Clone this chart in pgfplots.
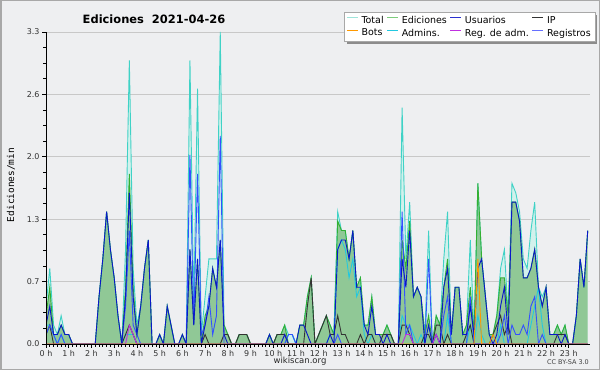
\documentclass[border=0pt]{standalone}
\usepackage{fontspec}
\setmainfont{DejaVu Sans}
\setmonofont{DejaVu Sans Mono}
\usepackage{pgfplots}
\usepackage{pgfplotstable}
\pgfplotsset{compat=1.18}
\pgfdeclarelayer{bgl}
\pgfdeclarelayer{shl}
\pgfsetlayers{bgl,shl,main}
\definecolor{bgc}{HTML}{EEEFF1}
\definecolor{bordc}{HTML}{A8A8A8}
\definecolor{gridc}{HTML}{C8C8C8}
\definecolor{totl}{HTML}{3FD2C6}
\definecolor{totf}{HTML}{D2F1EC}
\definecolor{totleg}{HTML}{9EE4DA}
\definecolor{edl}{HTML}{33B033}
\definecolor{edf}{HTML}{90C896}
\definecolor{edleg}{HTML}{7CCC7C}
\definecolor{usr}{HTML}{0A18C8}
\definecolor{usrleg}{HTML}{2A30D0}
\definecolor{ipc}{HTML}{333333}
\definecolor{regc}{HTML}{3350FF}
\definecolor{regleg}{HTML}{6670FF}
\definecolor{adm}{HTML}{22C8E0}
\definecolor{rad}{HTML}{C030E0}
\definecolor{bot}{HTML}{FF9900}
\pgfplotstableread{
i T E U P R A M B
0 0.4 0.3 0.2 0.1 0.1 0.2 0 0
1 0.8 0.6 0.4 0.2 0.2 0.2 0 0
2 0.2 0.1 0.1 0 0.1 0.1 0 0
3 0.1 0.1 0.1 0 0 0 0 0
4 0.3 0.2 0.2 0 0.1 0.1 0 0
5 0.1 0.1 0.1 0 0 0 0 0
6 0.1 0.1 0.1 0 0 0 0 0
7 0 0 0 0 0 0 0 0
8 0 0 0 0 0 0 0 0
9 0 0 0 0 0 0 0 0
10 0 0 0 0 0 0 0 0
11 0 0 0 0 0 0 0 0
12 0 0 0 0 0 0 0 0
13 0 0 0 0 0 0 0 0
14 0.5 0.5 0.5 0 0 0 0 0
15 0.9 0.9 0.9 0 0 0 0 0
16 1.4 1.4 1.4 0 0 0 0 0
17 1.0 1.0 1.0 0 0 0 0 0
18 0.7 0.7 0.7 0 0 0 0 0
19 0.3 0.3 0.3 0 0 0 0 0
20 0 0 0 0 0 0 0 0
21 1.0 0.6 0.5 0.1 0.4 0.1 0 0
22 3.0 1.8 1.6 0.2 1.2 0.1 0.2 0
23 0.8 0.6 0.5 0.1 0.2 0.1 0.1 0
24 0.2 0.1 0.1 0 0.1 0 0 0
25 0.4 0.4 0.4 0 0 0 0 0
26 0.8 0.8 0.8 0 0 0 0 0
27 1.1 1.1 1.1 0 0 0 0 0
28 0 0 0 0 0 0 0 0
29 0 0 0 0 0 0 0 0
30 0.1 0.1 0.1 0 0 0 0 0
31 0 0 0 0 0 0 0 0
32 0.4 0.4 0.4 0 0 0 0 0
33 0.2 0.2 0.2 0 0 0 0 0
34 0 0 0 0 0 0 0 0
35 0 0 0 0 0 0 0 0
36 0.1 0.1 0.1 0 0 0 0 0
37 0 0 0 0 0 0 0 0
38 3.0 1.0 1.0 0 2.0 0 0 0
39 0.4 0.2 0.2 0 0.2 0 0 0
40 2.7 0.9 0.9 0 1.8 0 0 0
41 0.1 0 0 0 0.1 0 0 0
42 0.5 0.3 0.2 0.1 0.2 0 0 0
43 0.9 0.4 0.4 0 0.5 0 0 0
44 0.9 0.8 0.8 0 0.1 0 0 0
45 0.9 0.6 0.6 0 0.3 0 0 0
46 3.3 1.1 1.1 0 2.2 0 0 0
47 0.2 0.2 0.1 0.1 0 0 0 0
48 0.1 0.1 0 0.1 0 0 0 0
49 0 0 0 0 0 0 0 0
50 0 0 0 0 0 0 0 0
51 0.1 0.1 0 0.1 0 0 0 0
52 0.1 0.1 0 0.1 0 0 0 0
53 0.1 0.1 0 0.1 0 0 0 0
54 0 0 0 0 0 0 0 0
55 0 0 0 0 0 0 0 0
56 0 0 0 0 0 0 0 0
57 0 0 0 0 0 0 0 0
58 0 0 0 0 0 0 0 0
59 0.1 0.1 0.1 0 0 0 0 0
60 0 0 0 0 0 0 0 0
61 0.1 0.1 0 0.1 0 0 0 0
62 0.1 0.1 0 0.1 0 0 0 0
63 0.2 0.2 0.1 0.1 0 0 0 0
64 0.1 0 0 0 0.1 0.1 0 0
65 0.1 0 0 0 0.1 0.1 0 0
66 0 0 0 0 0 0 0 0
67 0.2 0.2 0.2 0 0 0 0 0
68 0.2 0.2 0.2 0 0 0 0 0
69 0.5 0.5 0.1 0.4 0 0 0 0
70 0.7 0.7 0 0.7 0 0 0 0
71 0 0 0 0 0 0 0 0
72 0.1 0.1 0 0.1 0 0 0 0
73 0.2 0.2 0 0.2 0 0 0 0
74 0.3 0.3 0 0.3 0 0 0 0
75 0.2 0.2 0.1 0.1 0 0.1 0 0
76 0.1 0.1 0 0.1 0 0.1 0 0
77 1.4 1.3 1.0 0.3 0.1 1.0 0 0
78 1.2 1.2 1.1 0.1 0 1.1 0 0
79 1.2 1.2 1.1 0.1 0 1.0 0 0
80 0.9 0.9 0.9 0 0 0.7 0 0
81 1.2 1.2 1.2 0 0 0.9 0 0
82 0.6 0.6 0.6 0 0 0.5 0 0
83 0.7 0.7 0.6 0.1 0 0.6 0 0
84 0.2 0.2 0.2 0 0 0.1 0 0
85 0.2 0.2 0.1 0.1 0 0 0 0
86 0.5 0.5 0.4 0.1 0 0.1 0 0
87 0.1 0.1 0.1 0 0 0 0 0
88 0.1 0.1 0.1 0 0 0 0 0
89 0.1 0.1 0 0.1 0 0 0 0
90 0.2 0.2 0.1 0.1 0 0 0 0
91 0.1 0.1 0 0.1 0 0 0 0
92 0 0 0 0 0 0 0 0
93 0 0 0 0 0 0 0 0
94 2.5 1.1 0.9 0.2 1.4 0.3 0 0
95 0.9 0.8 0.6 0.2 0.1 0.2 0.1 0
96 1.5 1.3 1.2 0.1 0.2 0.2 0.1 0
97 0.5 0.5 0.5 0 0 0.1 0 0
98 0.6 0.6 0.6 0 0 0 0 0
99 0.5 0.5 0.5 0 0 0.1 0 0
100 0.1 0.1 0 0.1 0 0 0 0
101 1.2 0.3 0.2 0.1 0.9 0 0 0
102 0 0 0 0 0 0 0 0
103 0.3 0.3 0.1 0.2 0 0 0.1 0
104 0.2 0.2 0 0.2 0 0 0 0
105 0.9 0.6 0.6 0 0.3 0 0 0
106 1.4 0.9 0.8 0.1 0.5 0.3 0 0
107 0.1 0.1 0.1 0 0 0 0 0
108 0.6 0.6 0.6 0 0 0 0 0
109 0.6 0.6 0.6 0 0 0 0 0
110 0.1 0.1 0.1 0 0 0 0 0
111 0.2 0.2 0.1 0.1 0 0 0 0
112 1.1 0.6 0.4 0.2 0.5 0.2 0 0
113 0.1 0.1 0.1 0 0 0 0 0
114 1.7 1.7 0.8 0 0 0.3 0 0.9
115 0.9 0.9 0.9 0 0 0.1 0 0
116 0.5 0.5 0.5 0 0 0 0 0
117 0.1 0.1 0.1 0 0 0 0 0
118 0.1 0.1 0 0.1 0 0.1 0 0.1
119 0.3 0.3 0.1 0.2 0 0 0 0
120 0.8 0.7 0.4 0.3 0.1 0.2 0 0
121 1.0 0.7 0.6 0.1 0.3 0 0 0
122 0.3 0.3 0.1 0.2 0 0 0 0
123 1.7 1.5 1.5 0 0.2 0 0 0
124 1.6 1.5 1.5 0 0.1 0 0 0
125 1.4 1.3 1.3 0 0.1 0 0 0
126 0.9 0.7 0.7 0 0.2 0 0 0
127 0.8 0.7 0.7 0 0.1 0 0 0
128 1.2 0.8 0.8 0 0.4 0.2 0 0
129 1.5 1.0 1.0 0 0.5 0.4 0 0
130 0.6 0.6 0.6 0 0 0.6 0 0
131 0.5 0.4 0.4 0 0.1 0.2 0 0
132 0.6 0.6 0.6 0 0 0 0 0
133 0.1 0.1 0.1 0 0 0 0 0
134 0.1 0.1 0.1 0 0 0 0 0
135 0.2 0.2 0.1 0.1 0 0 0 0
136 0.1 0.1 0 0.1 0 0 0 0
137 0.2 0.2 0.1 0.1 0 0 0 0
138 0 0 0 0 0 0 0 0
139 0 0 0 0 0 0 0 0
140 0.3 0.3 0.3 0 0 0 0 0
141 0.9 0.9 0.9 0 0 0 0 0
142 0.6 0.6 0.6 0 0 0 0 0
143 1.2 1.2 1.2 0 0 0 0 0
}\data
\begin{document}
\begin{tikzpicture}
\path[use as bounding box] (0,0) rectangle (600bp,370bp);
\begin{pgfonlayer}{bgl}
\fill[bgc] (0,0) rectangle (600bp,370bp);
\draw[bordc, line width=1.5bp] (0.75bp,0.75bp) rectangle (599.25bp,369.25bp);
\end{pgfonlayer}
\node[font=\bfseries\fontsize{11.5}{12}\selectfont] at (154bp,351bp) {Ediciones\ \ 2021-04-26};
\node[font=\ttfamily\fontsize{9.5}{10}\selectfont, rotate=90] at (11bp,185bp) {Ediciones/min};
\node[font=\fontsize{8.5}{9}\selectfont, text=black!85] at (300bp,9bp) {wikiscan.org};
\node[font=\fontsize{6.5}{7}\selectfont, text=black!75] at (568bp,8bp) {CC BY-SA 3.0};
\begin{axis}[
  at={(46bp,26bp)}, anchor=south west,
  scale only axis, width=544bp, height=312bp,
  xmin=0, xmax=143.6, ymin=0, ymax=3.3,
  axis x line=bottom, axis y line=left,
  axis line style={-, line width=0.8bp, black},
  xtick={0,6,12,18,24,30,36,42,48,54,60,66,72,78,84,90,96,102,108,114,120,126,132,138},
  xticklabels={0 h,1 h,2 h,3 h,4 h,5 h,6 h,7 h,8 h,9 h,10 h,11 h,12 h,13 h,14 h,15 h,16 h,17 h,18 h,19 h,20 h,21 h,22 h,23 h},
  minor x tick num=5,
  ytick={0,0.66,1.32,1.98,2.64,3.3},
  yticklabels={0.0,0.7,1.3,2.0,2.6,3.3},
  minor y tick num=3,
  tick align=outside,
  major tick length=4bp, minor tick length=3bp,
  tick style={black, line width=0.7bp},
  ymajorgrids, major grid style={gridc, line width=0.8bp},
  ticklabel style={font=\fontsize{8}{8}\selectfont, text=black!80},
  xticklabel style={yshift=1.5bp},
  yticklabel style={xshift=1bp},
  /pgf/number format/assume math mode=true,
  legend columns=4,
  legend cell align=left,
  legend style={name=leg, at={(1.009,1.064)}, anchor=north east, draw=bordc, fill=white,
    font=\fontsize{9.5}{10}\selectfont, inner xsep=2bp, inner ysep=2bp,
    row sep=0bp, column sep=1bp},
  legend image code/.code={\draw[line width=1.2bp,#1] (0bp,3bp) -- (11bp,3bp);},
]
\addplot[forget plot, draw=none, fill=totf] table[x=i,y=T] {\data} \closedcycle;
\addplot[forget plot, draw=none, fill=edf] table[x=i,y=E] {\data} \closedcycle;
\addplot[forget plot, totl, line width=0.9bp] table[x=i,y=T] {\data};
\addplot[forget plot, edl, line width=0.9bp] table[x=i,y=E] {\data};
\addplot[forget plot, adm, line width=0.9bp] table[x=i,y=A] {\data};
\addplot[forget plot, ipc, line width=0.9bp] table[x=i,y=P] {\data};
\addplot[forget plot, regc, line width=0.9bp] table[x=i,y=R] {\data};
\addplot[forget plot, usr, line width=0.9bp] table[x=i,y=U] {\data};
\addplot[forget plot, rad, line width=0.9bp] table[x=i,y=M] {\data};
\addplot[forget plot, bot, line width=0.9bp] table[x=i,y=B] {\data};
\draw[black, line width=0.8bp] (axis cs:0,0) -- (axis cs:143.6,0);
\draw[black, line width=0.8bp] (axis cs:0,0) -- (axis cs:0,3.3);
\addlegendimage{draw=totleg}\addlegendentry{Total}
\addlegendimage{draw=edleg}\addlegendentry{Ediciones}
\addlegendimage{draw=usrleg}\addlegendentry{Usuarios}
\addlegendimage{draw=ipc}\addlegendentry{IP}
\addlegendimage{draw=bot}\addlegendentry{Bots}
\addlegendimage{draw=adm}\addlegendentry{Admins.}
\addlegendimage{draw=rad}\addlegendentry{Reg. de adm.}
\addlegendimage{draw=regleg}\addlegendentry{Registros}
\end{axis}
\begin{pgfonlayer}{shl}
\fill[black!45] ([shift={(2.5bp,-2.5bp)}]leg.south west) rectangle ([shift={(2.5bp,-2.5bp)}]leg.north east);
\end{pgfonlayer}
\end{tikzpicture}
\end{document}
